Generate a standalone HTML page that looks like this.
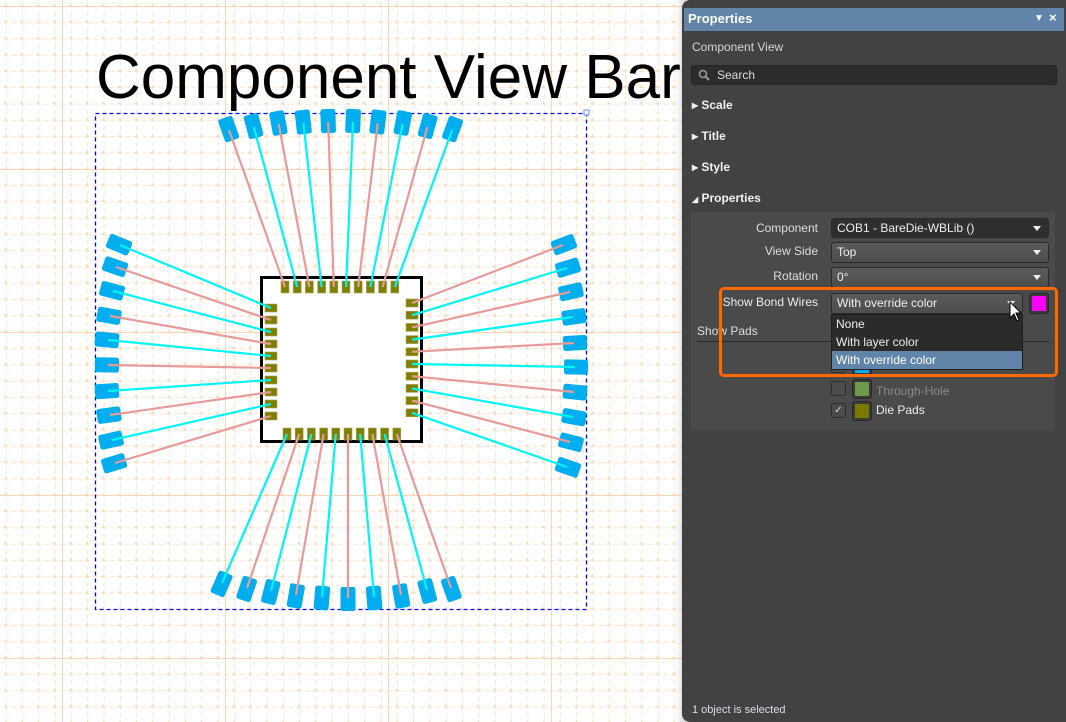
<!DOCTYPE html>
<html><head><meta charset="utf-8">
<style>
*{margin:0;padding:0;box-sizing:border-box}
body{width:1066px;height:722px;overflow:hidden;background:#fff;position:relative;font-family:"Liberation Sans",sans-serif}
#bg{position:absolute;left:0;top:0}
.p{position:absolute}
.t{position:absolute;font-size:12px;color:#e8e8e8;white-space:nowrap;line-height:14px}
.dd{position:absolute;border:1px solid #2a2a2a;border-radius:3px;background:linear-gradient(#5a5a5a,#4e4e4e);color:#eee;font-size:12px;padding-left:5px;line-height:18px}
.dd:after{content:"";position:absolute;right:7px;top:7px;border-left:4px solid transparent;border-right:4px solid transparent;border-top:5px solid #eee}
.sec{position:absolute;left:692px;font-size:12px;font-weight:bold;color:#f0f0f0}
.cb{position:absolute;left:831px;width:15px;height:15px;border:1px solid #2c2c2c;border-radius:3px;background:#4c4c4c}
.sw{position:absolute;left:852px;width:20px;height:20px;border:1px solid #2a2a2a;border-radius:3px;padding:2px;background:#3a3a3a}
.sw i{display:block;width:100%;height:100%}
</style></head><body>
<svg id="bg" width="1066" height="722" xmlns="http://www.w3.org/2000/svg">
<defs>
<pattern id="mn" x="6" y="6" width="16.3" height="16.3" patternUnits="userSpaceOnUse">
<line x1="0" y1="-2.5" x2="0" y2="2.5" stroke="#fcd3ac" stroke-width="1.2"/>
<line x1="-2.5" y1="0" x2="2.5" y2="0" stroke="#fcd3ac" stroke-width="1.2"/>
<line x1="16.3" y1="13.8" x2="16.3" y2="18.8" stroke="#fcd3ac" stroke-width="1.2"/>
<line x1="13.8" y1="16.3" x2="18.8" y2="16.3" stroke="#fcd3ac" stroke-width="1.2"/>
<line x1="0" y1="13.8" x2="0" y2="18.8" stroke="#fcd3ac" stroke-width="1.2"/>
<line x1="13.8" y1="0" x2="18.8" y2="0" stroke="#fcd3ac" stroke-width="1.2"/>
<line x1="0" y1="5.5" x2="0" y2="10.8" stroke="#fcd3ac" stroke-width="1.2"/>
<line x1="5.5" y1="0" x2="10.8" y2="0" stroke="#fcd3ac" stroke-width="1.2"/>
</pattern>
<pattern id="mj" x="62" y="6" width="163" height="163" patternUnits="userSpaceOnUse">
<line x1="0" y1="0" x2="0" y2="163" stroke="#fbcaa0" stroke-width="1.5"/>
<line x1="0" y1="0" x2="163" y2="0" stroke="#fbcaa0" stroke-width="1.5"/>
</pattern>
</defs>
<rect width="1066" height="722" fill="url(#mn)"/>
<rect width="1066" height="722" fill="url(#mj)"/>
<text x="96" y="98" font-family="Liberation Sans" font-size="62" fill="#000">Component View Bare</text>
<rect x="95.5" y="113.5" width="491" height="496" fill="none" stroke="#0000ff" stroke-width="1.3" stroke-dasharray="4,3"/>
<rect x="584" y="110" width="5" height="5" fill="#fff" stroke="#6a8cff"/>
<rect x="261.5" y="277.5" width="160" height="164" fill="#fff" stroke="#000" stroke-width="3"/>
<g id="g"></g>
</svg>

<div class="p" style="left:676px;top:0;width:10px;height:722px;background:linear-gradient(90deg,rgba(0,0,0,0),rgba(0,0,0,0.18))"></div>
<div class="p" style="left:682px;top:0;width:384px;height:722px;background:#424242;border-radius:8px 0 0 8px"></div>
<div class="p" style="left:684px;top:8px;width:380px;height:23px;background:#6085a8"></div>
<div class="t" style="left:688px;top:12px;font-size:13px;font-weight:bold;color:#fff">Properties</div>
<div class="t" style="left:1034px;top:12px;font-size:10px;color:#fff">▼</div>
<div class="t" style="left:1049px;top:11px;font-size:13px;font-weight:bold;color:#fff">×</div>
<div class="t" style="left:692px;top:40px;font-size:12px;color:#cfd8e0">Component View</div>
<div class="p" style="left:691px;top:65px;width:366px;height:20px;background:#2c2c2c;border:1px solid #242424;border-radius:3px"></div>
<svg class="p" style="left:698px;top:69px" width="12" height="12"><circle cx="5" cy="5" r="3.5" fill="none" stroke="#999" stroke-width="1.6"/><line x1="7.5" y1="7.5" x2="11" y2="11" stroke="#999" stroke-width="2"/></svg>
<div class="t" style="left:717px;top:68px;color:#ddd">Search</div>
<div class="sec" style="top:98px">▸ Scale</div>
<div class="sec" style="top:129px">▸ Title</div>
<div class="sec" style="top:160px">▸ Style</div>
<div class="sec" style="top:191px"><span style="font-size:8px">◢</span> Properties</div>
<div class="p" style="left:691px;top:212px;width:364px;height:219px;background:#4a4a4a;border-radius:2px"></div>
<div class="t" style="left:700px;width:118px;text-align:right;top:221px;color:#ddd">Component</div>
<div class="t" style="left:700px;width:118px;text-align:right;top:244px;color:#ddd">View Side</div>
<div class="t" style="left:700px;width:118px;text-align:right;top:269px;color:#ddd">Rotation</div>
<div class="t" style="left:700px;width:118px;text-align:right;top:295px;color:#eee">Show Bond Wires</div>
<div class="dd" style="left:831px;top:218px;width:218px;height:20px;background:#2f2f2f">COB1 - BareDie-WBLib ()</div>
<div class="dd" style="left:831px;top:242px;width:218px;height:21px">Top</div>
<div class="dd" style="left:831px;top:267px;width:218px;height:21px">0°</div>
<div class="dd" style="left:831px;top:293px;width:192px;height:21px">With override color</div>
<div class="p" style="left:1029px;top:293px;width:20px;height:21px;border:1px solid #2a2a2a;border-radius:3px;padding:2px;background:#3a3a3a"><i style="display:block;width:100%;height:100%;background:#ff00ff"></i></div>
<div class="t" style="left:697px;top:324px;color:#ddd">Show Pads</div>
<div class="p" style="left:697px;top:341px;width:352px;height:1px;background:#2a2a2a"></div>
<div class="cb" style="top:358px"></div>
<div class="sw" style="top:356px"><i style="background:#00aeef"></i></div>
<div class="cb" style="top:381px"></div>
<div class="sw" style="top:379px"><i style="background:#6e9a4e"></i></div>
<div class="t" style="left:876px;top:384px;color:#8a8a8a">Through-Hole</div>
<div class="cb" style="top:403px;color:#ddd;font-size:10px;text-align:center;line-height:13px">✓</div>
<div class="sw" style="top:401px"><i style="background:#7a7a00"></i></div>
<div class="t" style="left:876px;top:403px;color:#eee">Die Pads</div>
<div class="p" style="left:831px;top:314px;width:192px;height:56px;background:#2b2b2b;border:1px solid #1e1e1e"></div>
<div class="p" style="left:832px;top:351px;width:190px;height:18px;background:#6085a8"></div>
<div class="t" style="left:836px;top:317px;color:#eee">None</div>
<div class="t" style="left:836px;top:335px;color:#eee">With layer color</div>
<div class="t" style="left:836px;top:353px;color:#fff">With override color</div>
<div class="p" style="left:719px;top:287px;width:339px;height:90px;border:3px solid #ff6a00;border-radius:5px"></div>
<svg class="p" style="left:1009px;top:301px" width="14" height="22"><path d="M1,1 L1,17 L5,13 L8,20 L10,19 L7,12 L12,12 Z" fill="#fff" stroke="#000" stroke-width="1"/></svg>
<div class="t" style="left:692px;top:703px;font-size:11px;color:#dde">1 object is selected</div>

<script>
var g=document.getElementById('g'),NS='http://www.w3.org/2000/svg',pk='#e89a9a',cy='#00f5f5';
var dies=[],pads=[];
var topY=[130,127,124,123,122,122,123,124,127,130];
for(var i=0;i<10;i++){dies.push([285+12.2*i,287,'h']);pads.push([229+24.8*i,topY[i],285+12.2*i,287,i%2?cy:pk]);}
var botP=[[222,583],[247,588],[271,591],[296,595],[322,597],[348,598],[374,597],[401,595],[427,590],[451,588]];
for(var i=0;i<10;i++){dies.push([287+12.2*i,434,'h']);pads.push([botP[i][0],botP[i][1],287+12.2*i,434,i%2?pk:cy]);}
var lp=[[120,245],[116,267],[113,291],[110,316],[108,340],[108,365],[108,391],[110,415],[112,440],[115,463]];
for(var i=0;i<10;i++){var y=308+12*i;dies.push([271,y,'v']);pads.push([lp[i][0],lp[i][1],271,y,i%2?pk:cy]);}
var rp=[[563,245],[567,268],[570,292],[573,317],[574,343],[575,367],[574,392],[573,417],[570,442],[567,467]];
for(var i=0;i<10;i++){var y=303+12.2*i;dies.push([412,y,'v']);pads.push([rp[i][0],rp[i][1],412,y,i%2?cy:pk]);}
function el(n,a){var e=document.createElementNS(NS,n);for(var k in a)e.setAttribute(k,a[k]);g.appendChild(e);return e;}
dies.forEach(function(d){var w=d[2]=='h'?8:12,h=d[2]=='h'?12:8;el('rect',{x:d[0]-w/2,y:d[1]-h/2,width:w,height:h,fill:'#808000',stroke:'#a8a860','stroke-width':0.6});});
pads.forEach(function(p){var a=Math.atan2(p[1]-p[3],p[0]-p[2])*180/Math.PI;
el('rect',{x:-11,y:-7.5,width:24,height:15,rx:2.5,fill:'#00aeef',transform:'translate('+p[0]+','+p[1]+') rotate('+a+')'});});
pads.forEach(function(p){el('line',{x1:p[2],y1:p[3],x2:p[0],y2:p[1],stroke:p[4],'stroke-width':2.2});});
</script>
</body></html>
